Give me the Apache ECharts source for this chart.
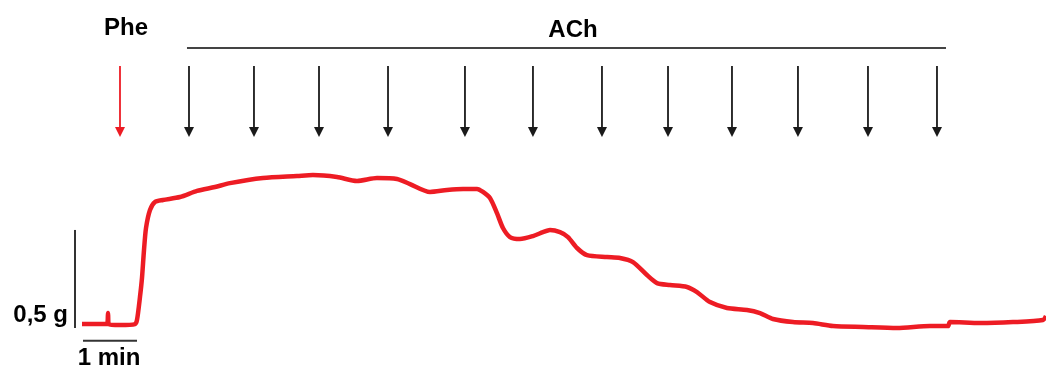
<!DOCTYPE html>
<html>
<head>
<meta charset="utf-8">
<script src="https://cdn.jsdelivr.net/npm/echarts@6/dist/echarts.min.js"></script>
<style>
    html, body { margin: 0; padding: 0; background: #fff; }
    #chart { width: 1046px; height: 367px; }
</style>
</head>
<body>
<div id="chart"></div>
<script>
    // recording: time in min (0 = start), tension in g
    var traceTime = [0, 0.245, 0.472, 0.491, 0.509, 0.717, 1.0, 1.038, 1.094, 1.132, 1.170, 1.208, 1.283, 1.377, 1.528,
        1.849, 2.170, 2.509, 2.792, 3.415, 4.057, 4.358, 4.811, 5.189, 5.566, 5.943, 6.189, 6.566, 6.887, 7.189,
        7.453, 7.566, 7.698, 7.830, 7.943, 8.075, 8.264, 8.509, 8.698, 8.830, 9.019, 9.170, 9.340, 9.528, 9.906,
        10.151, 10.396, 10.660, 10.849, 11.094, 11.415, 11.604, 11.849, 12.170, 12.547, 12.792, 13.038, 13.415,
        13.792, 14.170, 14.736, 15.377, 16.0, 16.340, 16.377, 16.943, 17.566, 18.132, 18.189]
    var traceTension = [0.005, 0.005, 0.005, 0.061, 0.005, 0, 0.005, 0.026, 0.143, 0.240, 0.383, 0.495, 0.587, 0.628, 0.638,
        0.653, 0.684, 0.704, 0.724, 0.750, 0.760, 0.765, 0.755, 0.735, 0.750, 0.745, 0.719, 0.679, 0.689, 0.694,
        0.694, 0.679, 0.648, 0.571, 0.495, 0.449, 0.439, 0.454, 0.474, 0.485, 0.474, 0.449, 0.393, 0.357, 0.347,
        0.342, 0.321, 0.255, 0.214, 0.204, 0.194, 0.168, 0.117, 0.087, 0.077, 0.061, 0.031, 0.015,
        0.010, -0.005, -0.010, -0.015, -0.005, -0.005, 0.015, 0.010, 0.015, 0.026, 0.046]

    // drug additions (min)
    var pheTimes = [0.717]
    var achTimes = [2.019, 3.245, 4.472, 5.774, 7.226, 8.509, 9.811, 11.057, 12.264, 13.509, 14.830, 16.132]
    var achBar = [1.981, 16.302]

    // scale bars
    var scaleTimeBar = [0.019, 1.038]      // 1 min
    var scaleForceBar = [-0.015, 0.485]    // 0,5 g

    var labels = [
        { text: 'Phe', x: 0.830, y: 1.515, align: 'center' },
        { text: 'ACh', x: 9.264, y: 1.505, align: 'center' },
        { text: '0,5 g', x: -0.264, y: 0.051, align: 'right' },
        { text: '1 min', x: 0.509, y: -0.168, align: 'center' }
    ]

    var arrowTop = 1.321
    var arrowBottom = 0.959

    function arrowItem(color) {
        return function (params, api) {
            var top = api.coord([api.value(0), arrowTop])
            var bot = api.coord([api.value(0), arrowBottom])
            return {
                type: 'group',
                children: [
                    { type: 'line', shape: { x1: top[0], y1: top[1], x2: bot[0], y2: bot[1] - 8 },
                      style: { stroke: color, lineWidth: 1.8 } },
                    { type: 'polygon', shape: { points: [[bot[0] - 5, bot[1] - 10], [bot[0] + 5, bot[1] - 10], [bot[0], bot[1]]] },
                      style: { fill: color } }
                ]
            }
        }
    }

    var chart = echarts.init(document.getElementById('chart'))
    chart.setOption({
        animation: false,
        grid: { left: 0, right: 0, top: 0, bottom: 0 },
        xAxis: { type: 'value', min: -1.547, max: 18.189, show: false },
        yAxis: { type: 'value', min: -0.214, max: 1.658, show: false },
        series: [
            {
                type: 'line',
                data: traceTime.map((t, i) => [t, traceTension[i]]),
                showSymbol: false,
                smooth: 0.25,
                lineStyle: { color: '#ed1c24', width: 4.5 },
                z: 3
            },
            {
                type: 'line',
                data: [[scaleTimeBar[0], -0.080], [scaleTimeBar[1], -0.080]],
                showSymbol: false,
                lineStyle: { color: '#333', width: 2 }
            },
            {
                type: 'line',
                data: [[-0.132, scaleForceBar[0]], [-0.132, scaleForceBar[1]]],
                showSymbol: false,
                lineStyle: { color: '#333', width: 2 }
            },
            {
                type: 'line',
                data: [[achBar[0], 1.413], [achBar[1], 1.413]],
                showSymbol: false,
                lineStyle: { color: '#444', width: 2 }
            },
            {
                type: 'custom',
                data: pheTimes.map(t => [t]),
                renderItem: arrowItem('#ed1c24')
            },
            {
                type: 'custom',
                data: achTimes.map(t => [t]),
                renderItem: arrowItem('#1a1a1a')
            },
            {
                type: 'custom',
                data: labels.map(l => [l.x, l.y]),
                renderItem: function (params, api) {
                    var p = api.coord([api.value(0), api.value(1)])
                    var l = labels[params.dataIndex]
                    return {
                        type: 'text',
                        x: p[0], y: p[1],
                        style: {
                            text: l.text,
                            font: 'bold 24px "Liberation Sans", Arial, sans-serif',
                            fill: '#000',
                            align: l.align,
                            verticalAlign: 'middle'
                        }
                    }
                }
            }
        ]
    })
</script>
</body>
</html>
